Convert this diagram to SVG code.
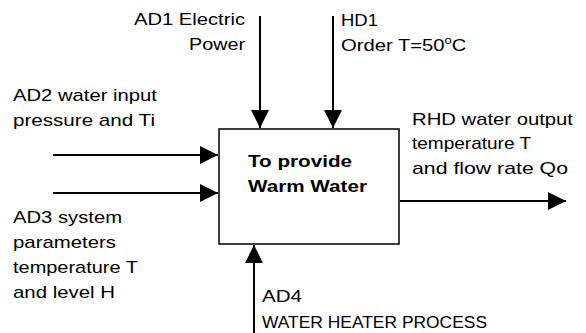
<svg xmlns="http://www.w3.org/2000/svg" width="586" height="333" viewBox="0 0 586 333">
<style>
text{font-family:"Liberation Sans",Arial,sans-serif;font-size:17px;fill:#000}
.b{font-weight:bold}
.c{stroke:#000;stroke-width:2;fill:none;marker-end:url(#ah)}
.box{fill:#fff;stroke:#000;stroke-width:1.5}
</style>
<defs>
<marker id="ah" markerUnits="userSpaceOnUse" markerWidth="18" markerHeight="18" refX="18" refY="9" orient="auto">
<path d="M0,0 L18,9 L0,18 Z" fill="#000"/>
</marker>
</defs>
<rect width="586" height="333" fill="#fff"/>
<g id="connectors">
<line class="c" x1="260" y1="16" x2="260" y2="128"/>
<line class="c" x1="333" y1="16" x2="333" y2="128"/>
<line class="c" x1="53" y1="155" x2="218" y2="155"/>
<line class="c" x1="53" y1="193" x2="218" y2="193"/>
<line class="c" x1="400" y1="201" x2="566" y2="201"/>
<line class="c" x1="254" y1="333" x2="254" y2="245"/>
</g>
<g id="process">
<rect class="box" x="219" y="129" width="180" height="115"/>
<text class="b" x="248" y="167" textLength="104" lengthAdjust="spacingAndGlyphs">To provide</text>
<text class="b" x="248" y="192" textLength="119" lengthAdjust="spacingAndGlyphs">Warm Water</text>
</g>
<g id="AD1">
<text x="134" y="25" textLength="111" lengthAdjust="spacingAndGlyphs">AD1 Electric</text>
<text x="189" y="50" textLength="56" lengthAdjust="spacingAndGlyphs">Power</text>
</g>
<g id="HD1">
<text x="341" y="26" textLength="37" lengthAdjust="spacingAndGlyphs">HD1</text>
<text transform="translate(341,51) scale(1.19,1)">Order T=50<tspan font-size="11" dy="-7">o</tspan><tspan dy="7">C</tspan></text>
</g>
<g id="AD2">
<text x="13" y="101" textLength="144" lengthAdjust="spacingAndGlyphs">AD2 water input</text>
<text x="13" y="126" textLength="142" lengthAdjust="spacingAndGlyphs">pressure and Ti</text>
</g>
<g id="AD3">
<text x="13" y="223" textLength="109" lengthAdjust="spacingAndGlyphs">AD3 system</text>
<text x="13" y="248" textLength="103" lengthAdjust="spacingAndGlyphs">parameters</text>
<text x="13" y="273" textLength="125" lengthAdjust="spacingAndGlyphs">temperature T</text>
<text x="13" y="298" textLength="102" lengthAdjust="spacingAndGlyphs">and level H</text>
</g>
<g id="RHD">
<text x="412" y="125" textLength="161" lengthAdjust="spacingAndGlyphs">RHD water output</text>
<text x="412" y="149" textLength="119" lengthAdjust="spacingAndGlyphs">temperature T</text>
<text x="412" y="174" textLength="156" lengthAdjust="spacingAndGlyphs">and flow rate Qo</text>
</g>
<g id="AD4">
<text x="262" y="302" textLength="40" lengthAdjust="spacingAndGlyphs">AD4</text>
<text x="262" y="328" textLength="225" lengthAdjust="spacingAndGlyphs">WATER HEATER PROCESS</text>
</g>
</svg>
